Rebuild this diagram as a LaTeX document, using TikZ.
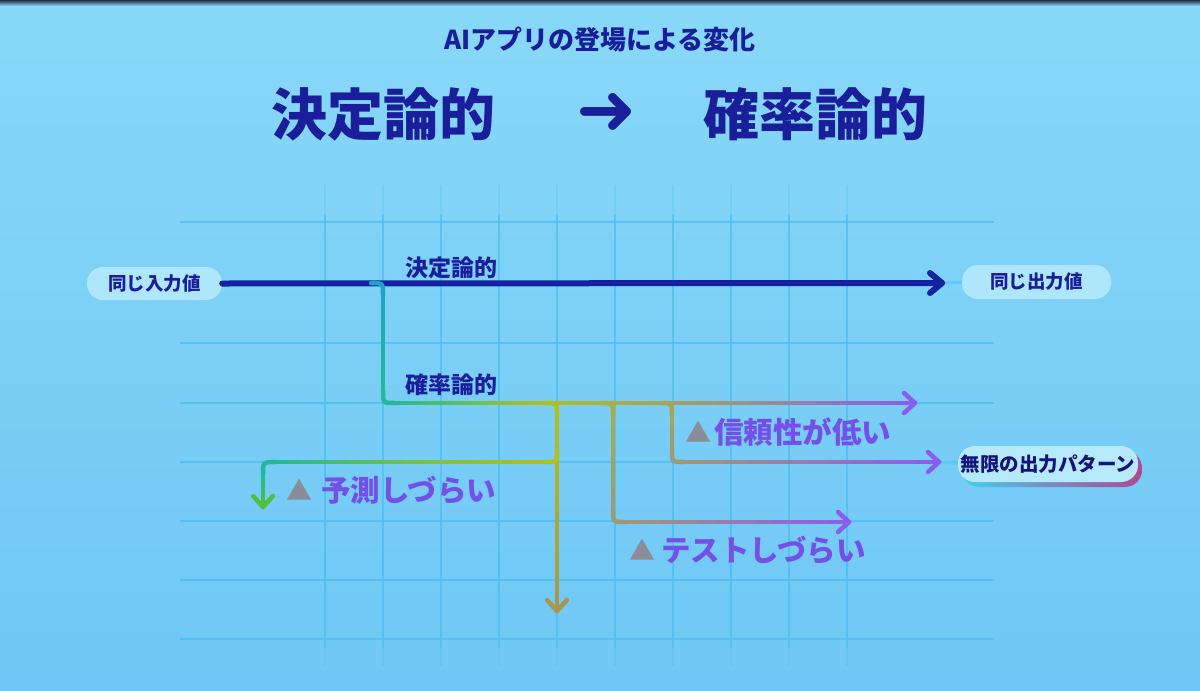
\documentclass[tikz,border=0pt]{standalone}
\usepackage{fontspec}
\newfontfamily\jp{Noto Sans CJK JP}
\newfontfamily\dv{DejaVu Sans}
\usetikzlibrary{calc}
\definecolor{navy}{HTML}{1A1E9A}
\definecolor{navydark}{HTML}{14147A}
\definecolor{navyline}{HTML}{1522A0}
\definecolor{bgtop}{HTML}{88D8F8}
\definecolor{bgbot}{HTML}{6FC7F5}
\definecolor{gridc}{HTML}{4AC0F0}
\definecolor{pillc}{HTML}{AEE6FB}
\definecolor{pillb}{HTML}{B6EAFA}
\definecolor{conn}{HTML}{5CCDF6}
\definecolor{purp}{HTML}{7450E8}
\definecolor{trig}{HTML}{8A8C98}
\definecolor{cTeal}{HTML}{1FA4C4}
\definecolor{cTealG}{HTML}{22B898}
\definecolor{cGreenY}{HTML}{72C050}
\definecolor{cYel}{HTML}{B2C020}
\definecolor{cOlive}{HTML}{A8AE44}
\definecolor{cGray}{HTML}{A09A74}
\definecolor{cPur}{HTML}{8A5CF0}
\definecolor{cBrown}{HTML}{A89650}
\definecolor{cGreen}{HTML}{4EC040}
\definecolor{glowL}{HTML}{40D0F0}
\definecolor{glowM}{HTML}{2010C8}
\definecolor{glowR}{HTML}{B04890}
\definecolor{topdark}{HTML}{203048}

% gradient segment between two named coordinates
\newcommand{\gseg}[4]{%
  \foreach \i in {0,...,11}{%
    \pgfmathsetmacro{\ta}{\i/12}%
    \pgfmathsetmacro{\tb}{(\i+1)/12}%
    \pgfmathtruncatemacro{\pc}{100-(\i+0.5)*100/12}%
    \draw[cline, draw=#3!\pc!#4] ($(#1)!\ta!(#2)$) -- ($(#1)!\tb!(#2)$);
  }}
\newcommand{\arrR}[2]{\draw[cline,draw=#2] ($(#1)+(-11,-10)$) -- (#1) -- ($(#1)+(-11,10)$);}
\newcommand{\arrD}[2]{\draw[cline,draw=#2] ($(#1)+(-10,-11)$) -- (#1) -- ($(#1)+(10,-11)$);}

\begin{document}
\begin{tikzpicture}[x=1pt,y=-1pt,
  cline/.style={line width=4.5pt, line cap=round, line join=round},
  gridline/.style={line width=2.6pt, draw=gridc, opacity=0.75},
  gridfaint/.style={line width=2.6pt, draw=gridc, opacity=0.25},
  pill/.style={fill=pillc, rounded corners=16pt, inner sep=0pt, text=navy,
    font=\jp\bfseries\fontsize{18.5}{20}\selectfont},
  lbl/.style={inner sep=0pt, text=navy, font=\jp\bfseries\fontsize{23}{26}\selectfont},
  big/.style={inner sep=0pt, text=navy, font=\jp\bfseries\fontsize{56}{60}\selectfont},
  tri/.style={inner sep=0pt, text=trig, font=\jp\fontsize{26}{28}\selectfont},
  warn/.style={inner sep=0pt, text=purp, font=\jp\bfseries\fontsize{29.5}{32}\selectfont},
]
\useasboundingbox (0,0) rectangle (1200,691);
\shade[top color=bgtop, bottom color=bgbot] (0,0) rectangle (1200,691);
\shade[top color=topdark, bottom color=bgtop] (0,0) rectangle (1200,6);

% grid
\foreach \y in {222,283,343,403,462,521,580,639}
  \draw[gridline] (180,\y) -- (994,\y);
\foreach \x in {325,383,441,499,557,615,673,731,789,847}{
  \draw[gridline] (\x,215) -- (\x,648);
  \draw[gridfaint] (\x,185) -- (\x,215);
  \draw[gridfaint] (\x,648) -- (\x,666);
}

% titles
\node[inner sep=0pt, text=navy, font=\jp\bfseries\fontsize{26}{30}\selectfont] (title) at (600,40) {AIアプリの登場による変化};
\node[big] (h1) at (383,114) {決定論的};
\node[inner sep=0pt, text=navy, font=\dv\fontsize{72}{74}\selectfont] (harr) at (607,114) {➜};
\node[big] (h2) at (815,114) {確率論的};

% input / output pills
\node[pill, minimum width=135pt, minimum height=33pt] (in) at (154.5,283.5) {同じ入力値};
\node[pill, minimum width=149pt, minimum height=34pt] (out) at (1036.5,282) {同じ出力値};

% deterministic line
\coordinate (outtip) at (942,283);
\draw[line width=6pt, draw=navyline, line cap=round] (in.east) -- (outtip);
\draw[line width=6pt, draw=navyline, line cap=round, line join=round]
  ($(outtip)+(-12,-10)$) -- (outtip) -- ($(outtip)+(-12,10)$);
\draw[line width=3pt, draw=conn] ($(outtip)+(4,0)$) -- (out.west);

% probabilistic branch coordinates
\coordinate (p0) at (371,283);
\coordinate (p1) at (383,295);
\coordinate (p2) at (383,391);
\coordinate (p3) at (395,403);
\coordinate (pa) at (480,403);
\coordinate (pb) at (545,403);
\coordinate (pc) at (620,403);
\coordinate (pd) at (720,403);
\coordinate (ptip) at (915,403);
\coordinate (q1) at (557,415);
\coordinate (qtip) at (557,611);
\coordinate (r0) at (557,450);
\coordinate (r1) at (545,462);
\coordinate (ra) at (400,462);
\coordinate (r2) at (275,462);
\coordinate (r3) at (263,474);
\coordinate (rtip) at (263,507);
\coordinate (s0) at (601,403);
\coordinate (s1) at (613,415);
\coordinate (s2) at (613,510);
\coordinate (s3) at (625,522);
\coordinate (stip) at (849,522);
\coordinate (t0) at (660,403);
\coordinate (t1) at (672,415);
\coordinate (t2) at (672,450);
\coordinate (t3) at (684,462);
\coordinate (ttip) at (939,462);

% branch to probabilistic
\draw[cline, draw=cTeal] (p0) .. controls (p1|-p0) .. (p1);
\gseg{p1}{p2}{cTeal}{cTealG}
\draw[cline, draw=cTealG] (p2) .. controls (p2|-p3) .. (p3);

% vertical down (Q)
\draw[cline, draw=cYel] (pb) .. controls (q1|-pb) .. (q1);
\gseg{q1}{qtip}{cYel}{cBrown}
\arrD{qtip}{cBrown}

% predict branch (R)
\draw[cline, draw=cYel] (r0) .. controls (r0|-r1) .. (r1);
\gseg{r1}{ra}{cYel}{cGreenY}
\gseg{ra}{r2}{cGreenY}{cTealG}
\draw[cline, draw=cTealG] (r2) .. controls (r3|-r2) .. (r3);
\gseg{r3}{rtip}{cTealG}{cGreen}
\arrD{rtip}{cGreen}

% test branch (S)
\draw[cline, draw=cOlive] (s0) .. controls (s1|-s0) .. (s1);
\gseg{s1}{s2}{cOlive}{cGray}
\draw[cline, draw=cGray] (s2) .. controls (s2|-s3) .. (s3);
\gseg{s3}{stip}{cGray}{cPur}
\arrR{stip}{cPur}

% trust branch (T)
\draw[cline, draw=cOlive!60!cGray] (t0) .. controls (t1|-t0) .. (t1);
\gseg{t1}{t2}{cOlive!60!cGray}{cGray}
\draw[cline, draw=cGray] (t2) .. controls (t2|-t3) .. (t3);
\gseg{t3}{ttip}{cGray}{cPur}
\arrR{ttip}{cPur}

% main probabilistic horizontal
\gseg{p3}{pa}{cTealG}{cGreenY}
\gseg{pa}{pb}{cGreenY}{cYel}
\gseg{pb}{pc}{cYel}{cOlive}
\gseg{pc}{pd}{cOlive}{cGray}
\gseg{pd}{ptip}{cGray}{cPur}
\arrR{ptip}{cPur}

% infinite outputs pill
\shade[rounded corners=17pt, left color=glowL, middle color=glowM, right color=glowR]
  (962,451) rectangle (1142,487);
\node[pill, fill=pillb, rounded corners=17pt, minimum width=180pt, minimum height=36pt,
  text=navydark, font=\jp\bfseries\fontsize{19.5}{22}\selectfont] (inf) at (1048,464) {無限の出力パターン};
\draw[line width=3pt, draw=conn] ($(ttip)+(4,0)$) -- (inf.west);

% labels
\node[lbl] (det) at (451,268) {決定論的};
\node[lbl] (prob) at (451,385) {確率論的};

\node[tri] (w1t) at (698,432) {▲};
\node[warn, anchor=west] (w1) at (714,432) {信頼性が低い};
\node[tri] (w2t) at (642,550) {▲};
\node[warn, anchor=west] (w2) at (661,550) {テストしづらい};
\node[tri] (w3t) at (299.5,490) {▲};
\node[warn, anchor=west] (w3) at (321,490) {予測しづらい};
\end{tikzpicture}
\end{document}
